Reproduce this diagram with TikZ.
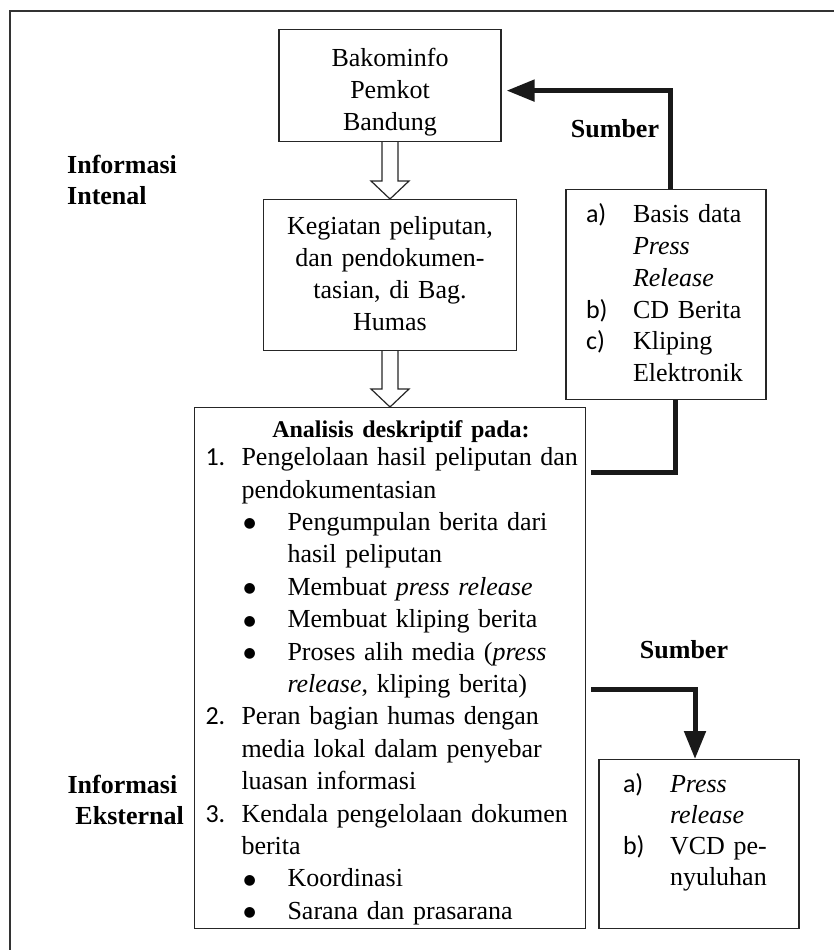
\documentclass[tikz,border=0pt]{standalone}
\usepackage{fontspec}
\setmainfont{Liberation Serif}
\setsansfont{Carlito}
\newfontfamily\symfont{DejaVu Sans}
\usetikzlibrary{arrows.meta,calc}

\newcommand{\numlab}[1]{\makebox[36pt][l]{\sffamily #1}}
\newcommand{\bullab}{\hspace*{38pt}\makebox[44pt][l]{\raisebox{2.5pt}{\symfont\fontsize{14}{16}\selectfont ●}}}
\newcommand{\letlab}[1]{\makebox[47pt][l]{\sffamily #1}}

\begin{document}
\begin{tikzpicture}[x=1pt, y=-1pt,
    box/.style={draw=black!85, line width=1.2pt, inner xsep=0pt, inner ysep=0pt,
        font=\fontsize{26}{32}\selectfont},
    listbox/.style={box, align=left},
    sidelabel/.style={inner sep=0pt, font=\fontsize{26}{31}\selectfont\bfseries},
    hollowarrow/.style={draw=black!85, line width=1.2pt, fill=white, line join=miter},
    thickline/.style={line width=5pt, black!90},
    thickarrow/.style={thickline, -{Triangle[length=28pt, width=21pt]}}]

    \useasboundingbox (0,0) rectangle (834,950);

    % frame
    \draw [line width=1.5pt, black!80] (10,950) -- (10,11) -- (834,11);

    % main column
    \node [box, text height=37, text depth=75, text width=222, align=center, anchor=north]
        (bako) at (390,29) {Bakominfo\\Pemkot\\Bandung};
    \node [box, text height=35, text depth=116, text width=253, align=center, anchor=north]
        (kegiatan) at (390,199) {Kegiatan peliputan,\\dan pendokumen-\\tasian, di Bag.\\Humas};
    \node [listbox, text height=30, text depth=491, inner xsep=11pt, text width=369, anchor=north,
        font=\fontsize{26}{32.4}\selectfont] (analisis) at (390,407) {%
        \hspace*{22pt}\makebox[347pt]{\fontsize{24}{28}\selectfont\bfseries Analisis deskriptif pada:}\\[-4.4pt]
        \mbox{\numlab{1.}Pengelolaan hasil peliputan dan}\\
        \hspace*{36pt}pendokumentasian\\
        \bullab Pengumpulan berita dari\\
        \hspace*{82pt}hasil peliputan\\
        \bullab Membuat \textit{press release}\\
        \bullab Membuat kliping berita\\
        \bullab Proses alih media (\textit{press}\\
        \hspace*{82pt}\textit{release}, kliping berita)\\
        \numlab{2.}Peran bagian humas dengan\\
        \hspace*{36pt}media lokal dalam penyebar\\
        \hspace*{36pt}luasan informasi\\
        \numlab{3.}Kendala pengelolaan dokumen\\
        \hspace*{36pt}berita\\
        \bullab Koordinasi\\
        \bullab Sarana dan prasarana};

    % sources
    \node [listbox, text height=33, text depth=177, inner xsep=20pt, text width=160, anchor=north,
        font=\fontsize{26}{31.8}\selectfont] (sumberdata) at (666,189) {%
        \letlab{a)}Basis data\\
        \hspace*{47pt}\textit{Press}\\
        \hspace*{47pt}\textit{Release}\\
        \letlab{b)}CD Berita\\
        \letlab{c)}Kliping\\
        \hspace*{47pt}Elektronik};
    \node [listbox, text height=33, text depth=136, inner xsep=24pt, text width=152, anchor=north,
        font=\fontsize{26}{31}\selectfont] (media) at (699,759) {%
        \letlab{a)}\textit{Press}\\
        \hspace*{47pt}\textit{release}\\
        \letlab{b)}VCD pe-\\
        \hspace*{47pt}nyuluhan};

    % side labels
    \node [sidelabel, align=left, anchor=north west] (internal) at (67,155) {Informasi\\Intenal};
    \node [sidelabel, align=right, anchor=north east] (eksternal) at (184,775) {Informasi\hspace*{6.5pt}\\Eksternal};
    \node [sidelabel, anchor=base] (sumberA) at (615,137) {Sumber};
    \node [sidelabel, anchor=base] (sumberB) at (684,658) {Sumber};

    % hollow arrows
    \draw [hollowarrow] ($(bako.south)+(-8,0)$) -- ($(kegiatan.north)+(-8,-18)$) -- ++(-11,0)
        -- (kegiatan.north) -- ++(19,-18) -- ++(-11,0) -- ($(bako.south)+(8,0)$);
    \draw [hollowarrow] ($(kegiatan.south)+(-8,0)$) -- ($(analisis.north)+(-8,-18)$) -- ++(-11,0)
        -- (analisis.north) -- ++(19,-18) -- ++(-11,0) -- ($(kegiatan.south)+(8,0)$);

    % thick connectors
    \coordinate (outA) at (591,472);
    \coordinate (outB) at (591,689);
    \draw [thickline] (outA) -| ([xshift=9pt]sumberdata.south);
    \draw [thickarrow] ([xshift=4pt]sumberdata.north) |- ([xshift=5pt, yshift=-5pt]bako.east);
    \draw [thickarrow] (outB) -| ([xshift=-4pt]media.north);

\end{tikzpicture}
\end{document}
